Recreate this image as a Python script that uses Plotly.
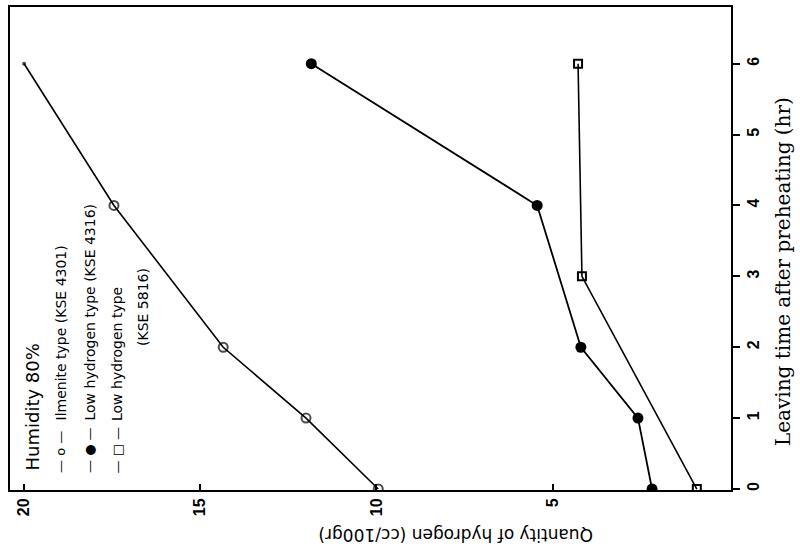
import plotly.graph_objects as go

# Data (time in hr, hydrogen in cc/100gr)
ilmenite_time = [0, 1, 2, 4, 6]
ilmenite_h2 = [9.95, 12.0, 14.35, 17.45, 20.0]

lowh_4316_time = [0, 1, 2, 4, 6]
lowh_4316_h2 = [2.18, 2.58, 4.2, 5.44, 11.85]

lowh_5816_time = [0, 3, 6]
lowh_5816_h2 = [0.91, 4.17, 4.28]

h2_ticks = [20, 15, 10, 5]
time_ticks = [0, 1, 2, 3, 4, 5, 6]

fig = go.Figure()

fig.add_trace(go.Scatter(
    x=ilmenite_h2, y=ilmenite_time, mode="lines+markers",
    line=dict(color="black", width=1.6),
    marker=dict(symbol="circle-open", size=[9, 9, 9, 9, 2], color="black",
                line=dict(width=2, color="black")),
    showlegend=False))
fig.add_trace(go.Scatter(
    x=lowh_4316_h2, y=lowh_4316_time, mode="lines+markers",
    line=dict(color="black", width=1.8),
    marker=dict(symbol="circle", size=11, color="black"),
    showlegend=False))
fig.add_trace(go.Scatter(
    x=lowh_5816_h2, y=lowh_5816_time, mode="lines+markers",
    line=dict(color="black", width=1.6),
    marker=dict(symbol="square-open", size=8, color="black",
                line=dict(width=2, color="black")),
    showlegend=False))

tickfont = dict(family="Liberation Sans", size=16, color="black", weight="bold")

fig.update_layout(
    width=800, height=551,
    margin=dict(l=10, r=69, t=7, b=61, autoexpand=False),
    paper_bgcolor="white", plot_bgcolor="white",
    xaxis=dict(range=[20.4, -0.06], tickvals=h2_ticks, ticktext=[str(v) for v in h2_ticks],
               ticks="inside", ticklen=6, tickwidth=2, tickcolor="black",
               showline=True, linewidth=2, linecolor="black", mirror=True,
               showgrid=False, zeroline=False, tickangle=-90, tickfont=tickfont,
               automargin=False),
    yaxis=dict(range=[-0.014, 6.8], tickvals=time_ticks, side="right",
               ticks="outside", ticklen=7, tickwidth=2, tickcolor="black",
               showline=True, linewidth=2, linecolor="black", mirror=True,
               showgrid=False, zeroline=False, tickangle=-90, tickfont=tickfont,
               automargin=False),
)

W, L, T, H = 721, 10, 7, 483


def px(x):
    return (x - L) / W


def py(y):
    return (T + H - y) / H


ann = []
# axis titles
ann.append(dict(text="Quantity of hydrogen (cc/100gr)", x=px(455), y=py(535),
                xref="paper", yref="paper", showarrow=False, textangle=180,
                xanchor="center", yanchor="middle",
                font=dict(family="DejaVu Sans", size=17, color="black")))
ann.append(dict(text="Leaving time after preheating (hr)", x=px(783), y=py(272),
                xref="paper", yref="paper", showarrow=False, textangle=-90,
                xanchor="center", yanchor="middle",
                font=dict(family="DejaVu Serif", size=20, color="black")))

legend_font = dict(family="DejaVu Sans", size=14, color="black")
ann.append(dict(text="Humidity 80%", x=px(32), y=py(473), xref="paper", yref="paper",
                showarrow=False, textangle=-90, xanchor="center", yanchor="bottom",
                font=dict(family="DejaVu Sans", size=18, color="black")))
legend_rows = [
    (60, "— o —", "Ilmenite type (KSE 4301)"),
    (89, "— ● —", "Low hydrogen type (KSE 4316)"),
    (117, "— □ —", "Low hydrogen type"),
]
for xpix, sym, label in legend_rows:
    ann.append(dict(text=sym, x=px(xpix), y=py(475), xref="paper", yref="paper",
                    showarrow=False, textangle=-90, xanchor="center", yanchor="bottom",
                    font=dict(family="DejaVu Sans", size=13, color="black")))
    ann.append(dict(text=label, x=px(xpix), y=py(423), xref="paper", yref="paper",
                    showarrow=False, textangle=-90, xanchor="center", yanchor="bottom",
                    font=legend_font))
ann.append(dict(text="(KSE 5816)", x=px(143), y=py(348), xref="paper", yref="paper",
                showarrow=False, textangle=-90, xanchor="center", yanchor="bottom",
                font=legend_font))

fig.update_layout(annotations=ann)

fig.write_html("out.html", config={"displayModeBar": False},
               post_script="document.body.style.margin='0';document.body.style.overflow='hidden';")
